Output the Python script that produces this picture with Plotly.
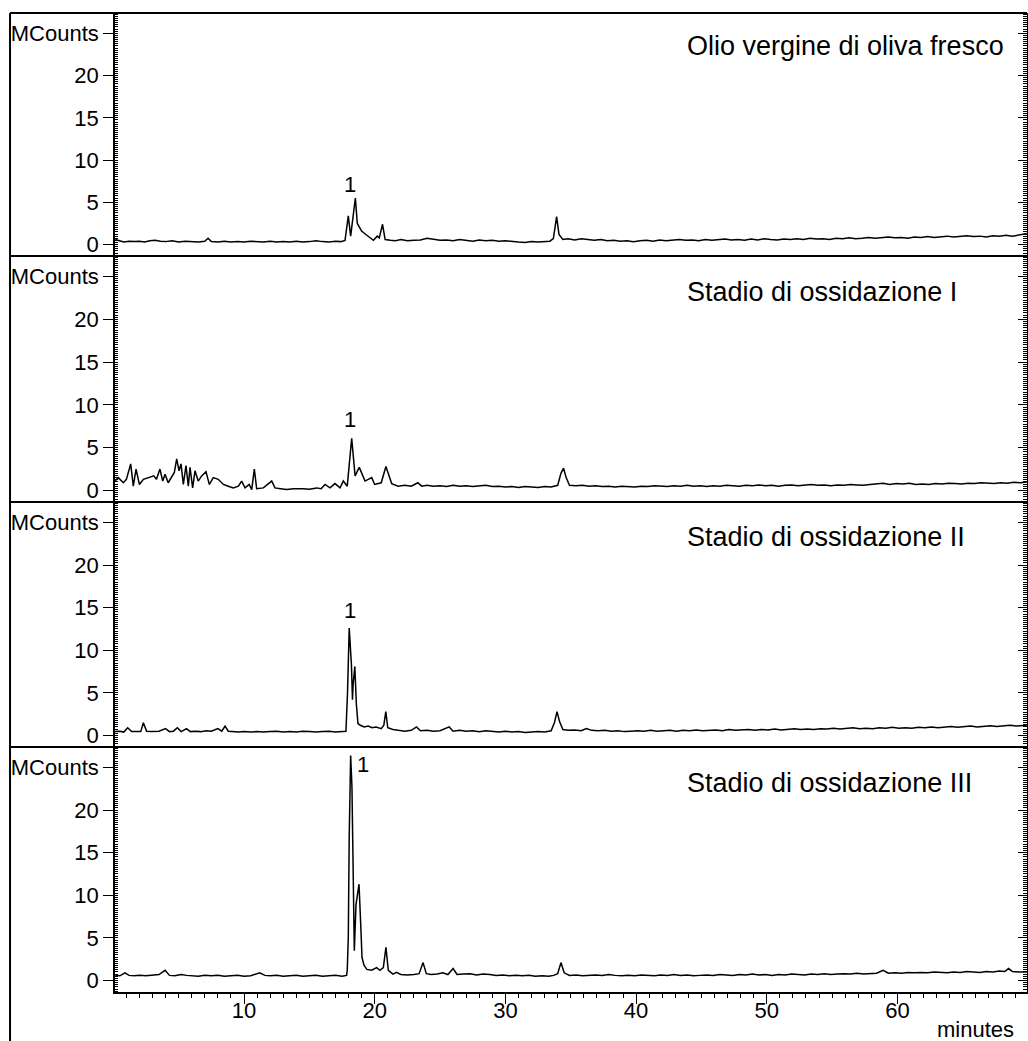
import plotly.graph_objects as go

# ---------------- data (minutes, MCounts) ----------------
panel_titles = ["Olio vergine di oliva fresco", "Stadio di ossidazione I",
                "Stadio di ossidazione II", "Stadio di ossidazione III"]

p1_t = [0.15, 0.4, 0.8, 1.2, 1.6, 2.0, 2.4, 2.8, 3.2, 3.6, 4.0, 4.5, 5.0, 5.5, 6.0, 6.5, 7.0, 7.25, 7.5,
        8.0, 8.5, 9.0, 9.5, 10.0, 10.5, 11.0, 11.5, 12.0, 12.5, 13.0, 13.5, 14.0, 14.5, 15.0, 15.5, 16.0,
        16.5, 17.0, 17.4, 17.73, 17.98, 18.16, 18.52, 18.67, 19.0, 19.4, 19.9, 20.2, 20.35, 20.6, 20.8,
        21.2, 21.6, 22.0, 22.5, 23.0, 23.5, 24.0, 24.5, 25.0, 25.5, 26.0, 26.5, 27.0, 27.5, 28.0, 28.5,
        29.0, 29.5, 30.0, 30.5, 31.0, 31.5, 32.0, 32.5, 33.0, 33.4, 33.67, 33.92, 34.1, 34.4, 34.8, 35.3,
        35.8, 36.3, 36.8, 37.3, 37.8, 38.3, 38.8, 39.3, 39.8, 40.3, 40.8, 41.3, 41.8, 42.3, 42.8, 43.3,
        43.8, 44.3, 44.8, 45.3, 45.8, 46.3, 46.8, 47.3, 47.8, 48.3, 48.8, 49.3, 49.8, 50.3, 50.8, 51.3,
        51.8, 52.3, 52.8, 53.3, 53.8, 54.3, 54.8, 55.3, 55.8, 56.3, 56.8, 57.3, 57.8, 58.3, 58.8, 59.3,
        59.8, 60.3, 60.8, 61.3, 61.8, 62.3, 62.8, 63.3, 63.8, 64.3, 64.8, 65.3, 65.8, 66.3, 66.8, 67.3,
        67.8, 68.3, 68.8, 69.3, 69.9]
p1_v = [0.6, 0.45, 0.3, 0.4, 0.35, 0.4, 0.3, 0.45, 0.5, 0.4, 0.35, 0.45, 0.3, 0.4, 0.35, 0.3, 0.4, 0.75, 0.35,
        0.3, 0.4, 0.3, 0.35, 0.3, 0.4, 0.35, 0.3, 0.4, 0.3, 0.35, 0.3, 0.4, 0.3, 0.35, 0.45, 0.35,
        0.3, 0.4, 0.35, 0.5, 3.4, 1.0, 5.5, 2.5, 1.6, 1.1, 0.5, 1.0, 0.8, 2.4, 0.6,
        0.5, 0.45, 0.6, 0.45, 0.5, 0.55, 0.75, 0.6, 0.5, 0.55, 0.45, 0.6, 0.5, 0.4, 0.55, 0.45,
        0.5, 0.4, 0.45, 0.35, 0.3, 0.25, 0.35, 0.3, 0.35, 0.4, 0.7, 3.3, 1.2, 0.6, 0.7, 0.55,
        0.7, 0.6, 0.5, 0.6, 0.45, 0.5, 0.4, 0.45, 0.35, 0.45, 0.5, 0.4, 0.55, 0.45, 0.5, 0.6,
        0.5, 0.55, 0.45, 0.6, 0.5, 0.55, 0.65, 0.55, 0.6, 0.5, 0.65, 0.55, 0.7, 0.6, 0.55, 0.65,
        0.6, 0.7, 0.6, 0.75, 0.65, 0.7, 0.6, 0.75, 0.7, 0.8, 0.7, 0.75, 0.85, 0.75, 0.8, 0.9,
        0.8, 0.85, 0.75, 0.9, 0.85, 0.95, 0.85, 0.9, 1.0, 0.9, 0.95, 1.05, 0.95, 1.0, 0.9, 1.05,
        1.0, 1.1, 1.0, 1.15, 1.3]

p2_t = [0.13, 0.38, 0.77, 1.0, 1.33, 1.53, 1.74, 2.0, 2.3, 2.7, 3.1, 3.3, 3.57, 3.78, 3.96, 4.2, 4.47, 4.67,
        4.85, 5.03, 5.18, 5.36, 5.56, 5.74, 5.87, 6.07, 6.25, 6.5, 6.76, 7.09, 7.35, 7.65, 8.03, 8.42, 8.8,
        9.18, 9.57, 9.82, 10.08, 10.4, 10.59, 10.79, 10.97, 11.48, 12.12, 12.37, 12.8, 13.27, 13.8, 14.2,
        14.5, 15.0, 15.56, 15.9, 16.2, 16.58, 16.96, 17.35, 17.6, 17.9, 18.24, 18.5, 18.82, 19.26, 19.77,
        20.0, 20.5, 20.86, 21.3, 21.8, 22.3, 22.8, 23.3, 23.6, 24.0, 24.5, 25.0, 25.5, 26.0, 26.5, 27.0,
        27.5, 28.0, 28.5, 29.0, 29.5, 30.0, 30.5, 31.0, 31.5, 32.0, 32.5, 33.0, 33.5, 34.0, 34.25, 34.45,
        34.65, 34.9, 35.4, 35.9, 36.4, 36.9, 37.4, 37.9, 38.4, 38.9, 39.4, 39.9, 40.4, 40.9, 41.4, 41.9,
        42.4, 42.9, 43.4, 43.9, 44.4, 44.9, 45.4, 45.9, 46.4, 46.9, 47.4, 47.9, 48.4, 48.9, 49.4, 49.9,
        50.4, 50.9, 51.4, 51.9, 52.4, 52.9, 53.4, 53.9, 54.4, 54.9, 55.4, 55.9, 56.4, 56.9, 57.4, 57.9,
        58.4, 58.9, 59.4, 59.9, 60.4, 60.9, 61.4, 61.9, 62.4, 62.9, 63.4, 63.9, 64.4, 64.9, 65.4, 65.9,
        66.4, 66.9, 67.4, 67.9, 68.4, 68.9, 69.4, 69.9]
p2_v = [1.1, 1.5, 0.9, 1.3, 3.1, 0.5, 2.5, 0.7, 1.3, 1.5, 1.7, 1.3, 2.5, 1.1, 1.9, 0.9, 1.5, 2.1,
        3.7, 2.3, 3.1, 0.7, 2.9, 0.5, 2.7, 0.3, 2.3, 1.1, 1.7, 2.2, 0.7, 1.5, 1.3, 0.7, 0.5,
        0.3, 0.5, 1.1, 0.3, 0.7, 0.1, 2.5, 0.2, 0.3, 1.1, 0.3, 0.2, 0.1, 0.2, 0.15,
        0.2, 0.15, 0.3, 0.2, 0.7, 0.3, 0.8, 0.3, 1.1, 0.5, 6.1, 1.7, 2.7, 1.1, 1.5,
        0.7, 0.9, 2.8, 0.8, 0.5, 0.6, 0.5, 0.9, 0.5, 0.6, 0.5, 0.55, 0.45, 0.6, 0.5, 0.55,
        0.45, 0.5, 0.6, 0.45, 0.5, 0.4, 0.45, 0.35, 0.45, 0.4, 0.35, 0.45, 0.4, 0.6, 2.0, 2.6,
        1.5, 0.6, 0.55, 0.6, 0.5, 0.55, 0.45, 0.5, 0.4, 0.5, 0.45, 0.4, 0.5, 0.45, 0.55, 0.5,
        0.45, 0.55, 0.5, 0.6, 0.5, 0.55, 0.45, 0.55, 0.5, 0.6, 0.55, 0.5, 0.6, 0.55, 0.65, 0.55,
        0.6, 0.5, 0.6, 0.65, 0.55, 0.6, 0.7, 0.6, 0.65, 0.55, 0.65, 0.6, 0.7, 0.65, 0.6, 0.7,
        0.75, 0.85, 0.7, 0.8, 0.75, 0.85, 0.7, 0.75, 0.7, 0.8, 0.75, 0.85, 0.8, 0.75, 0.85, 0.8,
        0.9, 0.85, 0.8, 0.9, 0.85, 0.95, 0.9, 1.0]

p3_t = [0.15, 0.5, 0.8, 1.1, 1.4, 1.8, 2.1, 2.3, 2.55, 3.0, 3.5, 4.0, 4.3, 4.6, 4.9, 5.2, 5.6, 5.9, 6.3, 6.7,
        7.1, 7.5, 8.0, 8.3, 8.55, 8.8, 9.2, 9.6, 10.0, 10.5, 11.0, 11.5, 12.0, 12.5, 13.0, 13.5, 14.0,
        14.5, 15.0, 15.5, 16.0, 16.5, 17.0, 17.5, 17.8, 17.92, 18.05, 18.22, 18.3, 18.35, 18.48, 18.6,
        18.72, 18.9, 19.2, 19.5, 19.8, 20.1, 20.5, 20.7, 20.85, 21.0, 21.4, 21.8, 22.3, 22.8, 23.2, 23.5,
        24.0, 24.5, 25.0, 25.7, 26.0, 26.5, 27.0, 27.5, 28.0, 28.5, 29.0, 29.5, 30.0, 30.5, 31.0, 31.5,
        32.0, 32.5, 33.0, 33.5, 33.75, 33.95, 34.15, 34.4, 34.8, 35.3, 35.8, 36.2, 36.6, 37.1, 37.6,
        38.1, 38.6, 39.1, 39.6, 40.1, 40.6, 41.1, 41.6, 42.1, 42.6, 43.1, 43.6, 44.1, 44.6, 45.1, 45.6,
        46.1, 46.6, 47.1, 47.6, 48.1, 48.6, 49.1, 49.6, 50.1, 50.6, 51.1, 51.6, 52.1, 52.6, 53.1, 53.6,
        54.1, 54.6, 55.1, 55.6, 56.1, 56.6, 57.1, 57.6, 58.1, 58.6, 59.1, 59.6, 60.1, 60.6, 61.1, 61.6,
        62.1, 62.6, 63.1, 63.6, 64.1, 64.6, 65.1, 65.6, 66.1, 66.6, 67.1, 67.6, 68.1, 68.6, 69.1, 69.9]
p3_v = [0.45, 0.5, 0.4, 0.9, 0.45, 0.5, 0.45, 1.5, 0.5, 0.45, 0.5, 0.8, 0.45, 0.5, 0.9, 0.45, 0.8, 0.45, 0.5, 0.45,
        0.55, 0.5, 0.8, 0.5, 1.1, 0.5, 0.45, 0.4, 0.45, 0.4, 0.45, 0.4, 0.45, 0.5, 0.4, 0.45, 0.4,
        0.5, 0.45, 0.4, 0.45, 0.5, 0.4, 0.45, 0.5, 5.0, 12.6, 8.3, 4.2, 6.0, 8.1, 3.6,
        1.4, 1.2, 1.0, 1.1, 0.9, 1.0, 0.8, 1.2, 2.8, 0.9, 0.7, 0.6, 0.5, 0.6, 1.0, 0.55,
        0.6, 0.5, 0.55, 1.0, 0.5, 0.6, 0.5, 0.55, 0.45, 0.55, 0.5, 0.4, 0.5, 0.4, 0.45, 0.35,
        0.4, 0.45, 0.4, 0.55, 1.5, 2.8, 1.6, 0.7, 0.6, 0.65, 0.55, 0.8, 0.6, 0.55, 0.6,
        0.5, 0.55, 0.45, 0.5, 0.55, 0.5, 0.6, 0.5, 0.55, 0.6, 0.5, 0.6, 0.55, 0.65, 0.55, 0.6,
        0.65, 0.55, 0.7, 0.6, 0.65, 0.7, 0.6, 0.7, 0.65, 0.75, 0.65, 0.7, 0.8, 0.7, 0.75, 0.7,
        0.8, 0.75, 0.85, 0.75, 0.8, 0.9, 0.8, 0.85, 0.8, 0.9, 0.85, 0.95, 0.85, 0.9, 0.85, 0.95,
        0.9, 1.0, 0.9, 0.95, 1.05, 0.95, 1.0, 1.1, 1.0, 1.05, 1.15, 1.05, 1.1, 1.2, 1.1, 1.2]

p4_t = [0.15, 0.5, 0.9, 1.2, 1.6, 2.0, 2.5, 3.0, 3.5, 3.96, 4.3, 4.7, 5.2, 5.6, 6.0, 6.5, 7.0, 7.5, 8.0, 8.5,
        9.0, 9.5, 10.0, 10.5, 11.2, 11.6, 12.0, 12.5, 13.0, 13.5, 14.0, 14.5, 15.0, 15.5, 16.0, 16.5,
        17.0, 17.5, 17.85, 17.9, 17.98, 18.05, 18.16, 18.26, 18.36, 18.44, 18.57, 18.67, 18.8, 18.93,
        19.03, 19.18, 19.4, 19.77, 20.15, 20.4, 20.66, 20.86, 21.04, 21.4, 21.66, 22.0, 22.5, 23.0, 23.4,
        23.7, 23.95, 24.3, 24.8, 25.2, 25.6, 26.0, 26.3, 26.8, 27.3, 27.8, 28.3, 28.8, 29.3, 29.8, 30.3,
        30.8, 31.3, 31.8, 32.3, 32.8, 33.3, 33.7, 34.0, 34.25, 34.5, 34.9, 35.4, 35.9, 36.4, 36.9, 37.4,
        37.9, 38.4, 38.9, 39.4, 39.9, 40.4, 40.9, 41.4, 41.9, 42.4, 42.9, 43.4, 43.9, 44.4, 44.9, 45.4,
        45.9, 46.4, 46.9, 47.4, 47.9, 48.4, 48.9, 49.4, 49.9, 50.4, 50.9, 51.4, 51.9, 52.4, 52.9, 53.4,
        53.9, 54.4, 54.9, 55.4, 55.9, 56.4, 56.9, 57.4, 57.9, 58.4, 58.9, 59.3, 59.8, 60.3, 60.8, 61.3,
        61.8, 62.3, 62.8, 63.3, 63.8, 64.3, 64.8, 65.3, 65.8, 66.3, 66.8, 67.3, 67.8, 68.2, 68.5, 68.8,
        69.3, 69.9]
p4_v = [0.6, 0.55, 0.9, 0.6, 0.55, 0.6, 0.55, 0.6, 0.7, 1.2, 0.6, 0.55, 0.7, 0.6, 0.55, 0.5, 0.6, 0.55, 0.6, 0.5,
        0.55, 0.6, 0.5, 0.55, 0.9, 0.6, 0.55, 0.6, 0.5, 0.55, 0.6, 0.5, 0.55, 0.6, 0.5, 0.55,
        0.6, 0.5, 0.6, 1.2, 5.0, 16.8, 26.4, 22.7, 12.9, 3.5, 8.9, 10.1, 11.3, 6.6,
        2.7, 1.8, 1.3, 1.2, 1.5, 1.2, 1.5, 3.9, 1.2, 0.75, 0.95, 0.7, 0.65, 0.7, 0.8,
        2.1, 0.8, 0.7, 0.75, 0.9, 0.7, 1.4, 0.7, 0.75, 0.8, 0.65, 0.75, 0.7, 0.6, 0.65, 0.55,
        0.6, 0.55, 0.6, 0.5, 0.55, 0.5, 0.6, 0.8, 2.1, 0.9, 0.6, 0.65, 0.55, 0.6, 0.65, 0.6,
        0.7, 0.6, 0.55, 0.6, 0.55, 0.65, 0.6, 0.55, 0.65, 0.6, 0.7, 0.6, 0.65, 0.55, 0.6, 0.65,
        0.6, 0.7, 0.65, 0.6, 0.7, 0.65, 0.75, 0.65, 0.7, 0.6, 0.7, 0.65, 0.75, 0.7, 0.65, 0.75,
        0.7, 0.8, 0.7, 0.75, 0.8, 0.75, 0.85, 0.75, 0.8, 0.85, 1.2, 0.85, 0.9, 0.85, 0.95, 0.9,
        0.95, 0.9, 1.0, 0.95, 0.9, 1.0, 0.95, 1.05, 1.0, 0.95, 1.05, 1.0, 1.1, 1.05, 1.4, 1.05,
        1.0, 1.0]

series_t = [p1_t, p2_t, p3_t, p4_t]
series_v = [p1_v, p2_v, p3_v, p4_v]

# peak "1" label positions (minutes, MCounts)
peak_label_t = [18.1, 18.1, 18.1, 19.1]
peak_label_v = [7.1, 8.3, 14.7, 25.3]

y_range = [-1.35, 27.4]
x_range = [0.13, 69.91]

FONT = "Liberation Sans, Arial, sans-serif"

# ---------------- figure ----------------
fig = go.Figure()
domains = [[0.7518, 1.0], [0.5005, 0.7518], [0.2503, 0.5005], [0.0, 0.2503]]

for i in range(4):
    yname = "y" if i == 0 else f"y{i+1}"
    fig.add_trace(go.Scatter(x=series_t[i], y=series_v[i], mode="lines",
                             line=dict(color="black", width=1.5),
                             xaxis="x", yaxis=yname, showlegend=False, hoverinfo="skip"))
    # dummy trace for right-side tick axis
    fig.add_trace(go.Scatter(x=[None], y=[None], xaxis="x", yaxis=f"y{i+5}",
                             showlegend=False, hoverinfo="skip"))

layout = dict(
    width=1028, height=1041,
    margin=dict(l=115, r=1, t=13, b=49),
    paper_bgcolor="white", plot_bgcolor="white",
    font=dict(family=FONT, size=22, color="black"),
    showlegend=False,
    xaxis=dict(range=x_range, anchor="y4", showline=True, linecolor="black", linewidth=1.5,
               showgrid=False, zeroline=False, tickmode="linear", tick0=0, dtick=10,
               ticks="outside", ticklen=10, tickwidth=1.2, tickcolor="black",
               ticklabelstandoff=-12,
               tickfont=dict(size=22, family=FONT),
               minor=dict(ticks="outside", tickmode="linear", tick0=0, dtick=1, ticklen=4,
                          tickwidth=1, tickcolor="black")),
)
for i in range(4):
    key = "yaxis" if i == 0 else f"yaxis{i+1}"
    layout[key] = dict(domain=domains[i], range=y_range, anchor="x", showline=True,
                       linecolor="black", linewidth=1.5, showgrid=False, zeroline=False,
                       tickmode="linear", tick0=0, dtick=5, ticks="outside", ticklen=10,
                       tickwidth=1.2, tickcolor="black", labelalias={"25": "MCounts"},
                       tickfont=dict(size=22, family=FONT),
                       minor=dict(ticks="inside", tickmode="linear", tick0=0, dtick=0.25,
                                  ticklen=3, tickwidth=1, tickcolor="black"))
    ov = "y" if i == 0 else f"y{i+1}"
    layout[f"yaxis{i+5}"] = dict(overlaying=ov, side="right", anchor="x", range=y_range,
                                 showline=True, linecolor="black", linewidth=1.5,
                                 showgrid=False, zeroline=False, showticklabels=False,
                                 tickmode="linear", tick0=0, dtick=5, ticks="inside", ticklen=9,
                                 tickwidth=1.2, tickcolor="black",
                                 minor=dict(ticks="inside", tickmode="linear", tick0=0, dtick=0.25,
                                            ticklen=4, tickwidth=1, tickcolor="black"))
fig.update_layout(**layout)

# frame: top line, separators, left border
shapes = []
for yb in [1.0, 0.7518, 0.5005, 0.2503]:
    shapes.append(dict(type="line", xref="paper", yref="paper", x0=-0.1151, x1=1.0,
                       y0=yb, y1=yb, line=dict(color="black", width=2)))
shapes.append(dict(type="line", xref="paper", yref="paper", x0=-0.1151, x1=-0.1151,
                   y0=-0.06, y1=1.0, line=dict(color="black", width=2)))
fig.update_layout(shapes=shapes)

annotations = []
title_y = [0.9663, 0.715, 0.4648, 0.2135]
for i in range(4):
    annotations.append(dict(text=panel_titles[i], xref="paper", yref="paper", x=0.625, y=title_y[i],
                            xanchor="left", yanchor="middle", showarrow=False,
                            font=dict(size=27, family=FONT, color="black")))
    yname = "y" if i == 0 else f"y{i+1}"
    annotations.append(dict(text="1", xref="x", yref=yname, x=peak_label_t[i], y=peak_label_v[i],
                            xanchor="center", yanchor="middle", showarrow=False,
                            font=dict(size=22, family=FONT, color="black")))
annotations.append(dict(text="minutes", xref="paper", yref="paper", x=0.944, y=-0.0388,
                        xanchor="center", yanchor="middle", showarrow=False,
                        font=dict(size=22, family=FONT, color="black")))
fig.update_layout(annotations=annotations)

fig.write_html("out.html", config={"displayModeBar": False},
               post_script="document.body.style.margin='0';document.body.style.overflow='hidden';")
